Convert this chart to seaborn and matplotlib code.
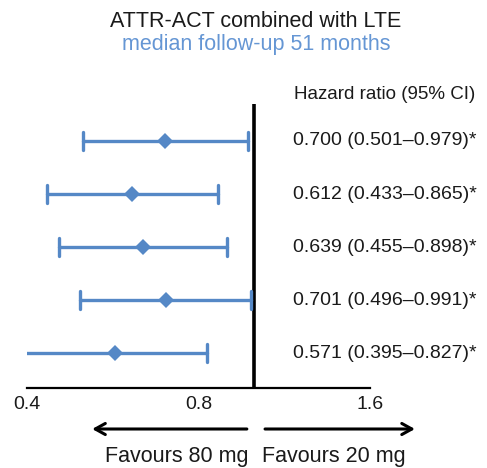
import numpy as np
import pandas as pd
import matplotlib
matplotlib.use("Agg")
import matplotlib.pyplot as plt
import matplotlib.transforms as mtransforms
from matplotlib.ticker import FixedLocator, FixedFormatter, NullLocator
import seaborn as sns

# --- data -------------------------------------------------------------
title = "ATTR-ACT combined with LTE"
subtitle = "median follow-up 51 months"
header = "Hazard ratio (95% CI)"
hazard_ratio = [0.700, 0.612, 0.639, 0.701, 0.571]
ci_low = [0.501, 0.433, 0.455, 0.496, 0.395]
ci_high = [0.979, 0.865, 0.898, 0.991, 0.827]
xticks = [0.4, 0.8, 1.6]
xtick_labels = ["0.4", "0.8", "1.6"]
favours_left = "Favours 80 mg"
favours_right = "Favours 20 mg"

BLUE = "#5588c6"
SUB_BLUE = "#6596d4"
TEXT = "#1a1a1a"

rows = list(range(len(hazard_ratio)))
# long form: each row carries its lower bound, estimate and upper bound
df = pd.DataFrame({
    "row": np.repeat(rows, 3),
    "value": np.column_stack([ci_low, hazard_ratio, ci_high]).ravel(),
})

sns.set_style("white")
plt.rcParams["font.family"] = ["Liberation Sans", "DejaVu Sans"]

fig = plt.figure(figsize=(4.87, 4.68), dpi=100)
ax = fig.add_axes([27 / 487, 80 / 468, 343 / 487, 284 / 468])
ax.set_xscale("log", base=2)

sns.pointplot(
    data=df, x="value", y="row", orient="y",
    estimator="median", errorbar=lambda v: (v.min(), v.max()),
    color=BLUE, marker="D", markersize=8, markeredgewidth=0,
    linestyle="none", capsize=0.34, err_kws={"linewidth": 2.4},
    ax=ax,
)

ax.axvline(1.0, color="black", lw=2.6, zorder=1)

ax.set_xlim(0.4, 1.6)
ax.set_ylim(4.66, -0.698)
ax.xaxis.set_major_locator(FixedLocator(xticks))
ax.xaxis.set_major_formatter(FixedFormatter(xtick_labels))
ax.xaxis.set_minor_locator(NullLocator())
ax.tick_params(axis="x", direction="in", length=6, width=1.6, pad=6,
               labelsize=14, color="black", labelcolor=TEXT)
ax.set_yticks([])
ax.set_xlabel("")
ax.set_ylabel("")
for side in ("left", "top", "right"):
    ax.spines[side].set_visible(False)
ax.spines["bottom"].set_linewidth(1.6)
ax.spines["bottom"].set_color("black")

# titles
fig.text(256 / 487, 1 - 27 / 468, title, ha="center", va="baseline",
         fontsize=15.5, color=TEXT)
fig.text(256 / 487, 1 - 50 / 468, subtitle, ha="center", va="baseline",
         fontsize=15.5, color=SUB_BLUE)

# hazard ratio column
col_x = 385 / 487
fig.text(col_x, 1 - 99 / 468, header, ha="center", va="baseline",
         fontsize=13.5, color=TEXT)
trans = mtransforms.blended_transform_factory(fig.transFigure, ax.transData)
for r, h, lo, hi in zip(rows, hazard_ratio, ci_low, ci_high):
    ax.text(col_x, r, f"{h:.3f} ({lo:.3f}\u2013{hi:.3f})*", transform=trans,
            ha="center", va="center", fontsize=14, color=TEXT)

# direction arrows and labels
arrow_y = 1 - 429 / 468
coords = ("axes fraction", "figure fraction")
arrow_kw = dict(arrowstyle="->,head_length=0.36,head_width=0.2", lw=2.2,
                color="black", shrinkA=0, shrinkB=0, mutation_scale=20)
ax.annotate("", xy=(0.190, arrow_y), xytext=(0.641, arrow_y),
            xycoords=coords, textcoords=coords, arrowprops=arrow_kw,
            annotation_clip=False)
ax.annotate("", xy=(1.131, arrow_y), xytext=(0.694, arrow_y),
            xycoords=coords, textcoords=coords, arrowprops=arrow_kw,
            annotation_clip=False)
label_y = 1 - 462 / 468
label_trans = mtransforms.blended_transform_factory(ax.transAxes, fig.transFigure)
ax.text(0.645, label_y, favours_left, transform=label_trans,
        ha="right", va="baseline", fontsize=15.5, color=TEXT)
ax.text(0.686, label_y, favours_right, transform=label_trans,
        ha="left", va="baseline", fontsize=15.5, color=TEXT)

fig.savefig("out.png", dpi=100)
